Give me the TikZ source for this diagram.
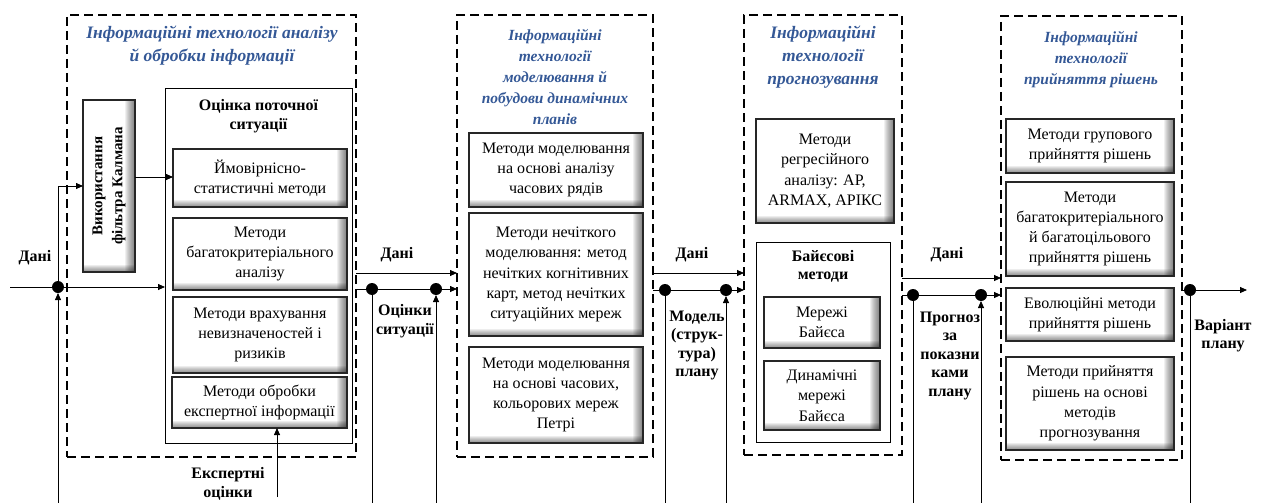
\documentclass[tikz,border=0pt]{standalone}
\usepackage{fontspec}
\setmainfont{Liberation Serif}
\usetikzlibrary{arrows.meta}
\definecolor{ttl}{RGB}{52,88,150}

\begin{document}
\begin{tikzpicture}[x=1pt,y=-1pt,
  frame/.style={draw, line width=1.8pt, dash pattern=on 9pt off 5pt, outer sep=0pt, inner sep=0pt},
  title/.style={text=ttl, align=center, font=\bfseries\itshape\fontsize{17.5}{23}\selectfont},
  titlesm/.style={text=ttl, align=center, font=\bfseries\itshape\fontsize{15.5}{21}\selectfont},
  plain/.style={draw, line width=0.9pt, outer sep=0pt, inner sep=0pt},
  mbox/.style={draw=black!85, line width=1.1pt, fill=white, outer sep=0pt, inner sep=0pt,
    path picture={
      \foreach \k in {1,...,10}{
        \fill[black, opacity=0.06]
          ([xshift=-\k*1pt]path picture bounding box.north east) rectangle (path picture bounding box.south east);
      }
      \foreach \k in {1,...,7}{
        \fill[black, opacity=0.07]
          ([yshift=\k*1pt]path picture bounding box.south west) rectangle (path picture bounding box.south east);
      }
    }},
  txt/.style={align=center, font=\fontsize{16}{20.3}\selectfont},
  lbl/.style={align=center, font=\bfseries\fontsize{16}{18.5}\selectfont},
  dot/.style={circle, fill, inner sep=0pt, minimum size=12pt, outer sep=0pt},
  line/.style={line width=0.8pt},
  arr/.style={line width=0.8pt, -{Triangle[length=7pt,width=6pt]}},
]
\useasboundingbox (0,0) rectangle (1266,503);

% ---------- block 1: analysis and processing ----------
\node[frame, minimum width=289pt, minimum height=442pt] (f1) at (211.5,236) {};
\node[title] (t1) at (212,46) {Інформаційні технології аналізу\\й обробки інформації};

\node[mbox, minimum width=52pt, minimum height=172pt] (kal) at (109,186) {};
\node[rotate=90, align=center, font=\bfseries\fontsize{15}{20}\selectfont] (kaltxt) at (kal.center) {Використання\\фільтра Калмана};

\node[plain, minimum width=187pt, minimum height=355pt] (ocin) at (258.5,265.5) {};
\node[lbl] (ocint) at (258.5,116) {Оцінка поточної\\ситуації};

\node[mbox, minimum width=174pt, minimum height=58pt] (m1) at (260,178) {};
\node[txt] at (m1.center) {Ймовірнісно-\\статистичні методи};
\node[mbox, minimum width=174pt, minimum height=72pt] (m2) at (260,254) {};
\node[txt] at (m2.center) {Методи\\багатокритеріального\\аналізу};
\node[mbox, minimum width=174pt, minimum height=76pt] (m3) at (260,335) {};
\node[txt] at (m3.center) {Методи врахування\\невизначеностей і\\ризиків};
\node[mbox, minimum width=175pt, minimum height=51pt] (m4) at (259.5,402.5) {};
\node[txt] at (m4.center) {Методи обробки\\експертної інформації};

% ---------- block 2: modelling ----------
\node[frame, minimum width=196pt, minimum height=442pt] (f2) at (555,236) {};
\node[titlesm] (t2) at (555,77) {Інформаційні\\технології\\моделювання й\\побудови динамічних\\планів};

\node[mbox, minimum width=174pt, minimum height=74pt] (n1) at (556,170) {};
\node[txt] at (n1.center) {Методи моделювання\\на основі аналізу\\часових рядів};
\node[mbox, minimum width=174pt, minimum height=123pt] (n2) at (556,274.5) {};
\node[txt] at (n2.center) {Методи нечіткого\\моделювання: метод\\нечітких когнітивних\\карт, метод нечітких\\ситуаційних мереж};
\node[mbox, minimum width=174pt, minimum height=96pt] (n3) at (556,395) {};
\node[txt] at (n3.center) {Методи моделювання\\на основі часових,\\кольорових мереж\\Петрі};

% ---------- block 3: forecasting ----------
\node[frame, minimum width=158pt, minimum height=440pt] (f3) at (823,235) {};
\node[title] (t3) at (823,57.5) {Інформаційні\\технології\\прогнозування};

\node[mbox, minimum width=138pt, minimum height=104pt] (r1) at (825,171) {};
\node[txt] at (r1.center) {Методи\\регресійного\\аналізу: АР,\\ARMAX, АРІКС};

\node[plain, minimum width=134pt, minimum height=200pt] (bay) at (823,342) {};
\node[lbl] (bayt) at (823,266.5) {Байєсові\\методи};
\node[mbox, minimum width=116pt, minimum height=51pt] (b1) at (822,322.5) {};
\node[txt] at (b1.center) {Мережі\\Байєса};
\node[mbox, minimum width=116pt, minimum height=69pt] (b2) at (822,395.5) {};
\node[txt] at (b2.center) {Динамічні\\мережі\\Байєса};

% ---------- block 4: decision making ----------
\node[frame, minimum width=181pt, minimum height=444pt] (f4) at (1091.5,238) {};
\node[titlesm] (t4) at (1091,60) {Інформаційні\\технології\\прийняття рішень};

\node[mbox, minimum width=168pt, minimum height=54pt] (d1) at (1090,146) {};
\node[txt] at (d1.center) {Методи групового\\прийняття рішень};
\node[mbox, minimum width=168pt, minimum height=94pt] (d2) at (1090,229) {};
\node[txt] at (d2.center) {Методи\\багатокритеріального\\й багатоцільового\\прийняття рішень};
\node[mbox, minimum width=168pt, minimum height=53pt] (d3) at (1090,314.5) {};
\node[txt] at (d3.center) {Еволюційні методи\\прийняття рішень};
\node[mbox, minimum width=168pt, minimum height=93pt] (d4) at (1090,403.5) {};
\node[txt] at (d4.center) {Методи прийняття\\рішень на основі\\методів\\прогнозування};

% ---------- input ----------
\coordinate (in) at (10,287);
\node[dot] (p0) at (58,287) {};
\node[lbl] (l0) at (35,258) {Дані};
\draw[arr] (in) -- (ocin.west |- in);
\draw[arr] (p0) |- (kal.west);
\draw[arr] (p0 |- 0,503) -- (p0);
\draw[arr] (kal.east |- 0,177) -- (m1.west |- 0,177);
\node[lbl] (lexp) at (228,484) {Експертні\\оцінки};
\coordinate (ex) at (277,497);
\draw[arr] (ex) -- (ex |- m4.south);

% ---------- block 1 -> block 2 ----------
\node[lbl] (l1) at (397,255) {Дані};
\draw[arr] (f1.east |- 0,273) -- (f2.west |- 0,273);
\draw[arr] (f1.east |- 0,289) -- (f2.west |- 0,289);
\node[dot] (p1) at (372,289) {};
\node[dot] (p2) at (436,289) {};
\draw[line] (p1) -- (p1 |- 0,503);
\draw[arr] (p2 |- 0,503) -- (p2);
\node[lbl] (l2) at (405,321) {Оцінки\\ситуації};

% ---------- block 2 -> block 3 ----------
\node[lbl] (l3) at (692,255) {Дані};
\draw[arr] (f2.east |- 0,273) -- (f3.west |- 0,273);
\draw[arr] (f2.east |- 0,290) -- (f3.west |- 0,290);
\node[dot] (p3) at (665,290) {};
\node[dot] (p4) at (726,290) {};
\draw[line] (p3) -- (p3 |- 0,503);
\draw[arr] (p4 |- 0,503) -- (p4);
\node[lbl] (l4) at (697,345.5) {Модель\\(струк-\\тура)\\плану};

% ---------- block 3 -> block 4 ----------
\node[lbl] (l5) at (947,255) {Дані};
\draw[arr] (f3.east |- 0,278) -- (f4.west |- 0,278);
\draw[arr] (f3.east |- 0,295) -- (f4.west |- 0,295);
\node[dot] (p5) at (913,295) {};
\node[dot] (p6) at (981,295) {};
\draw[line] (p5) -- (p5 |- 0,503);
\draw[arr] (p6 |- 0,503) -- (p6);
\node[lbl] (l6) at (950,355.5) {Прогноз\\за\\показни\\ками\\плану};

% ---------- output ----------
\node[dot] (p7) at (1190,290) {};
\coordinate (out) at (1247,290);
\draw[line] (f4.east |- p7) -- (p7);
\draw[arr] (p7) -- (out);
\draw[line] (p7) -- (p7 |- 0,503);
\node[lbl] (l7) at (1223,335.5) {Варіант\\плану};
\end{tikzpicture}
\end{document}
